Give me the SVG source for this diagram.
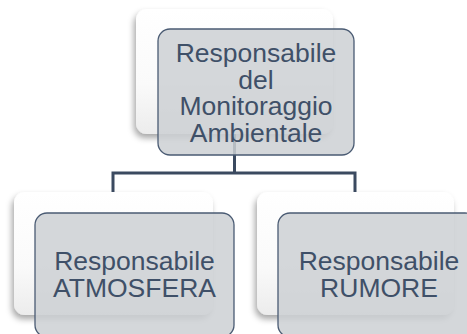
<svg xmlns="http://www.w3.org/2000/svg" width="467" height="334" viewBox="0 0 467 334">
  <defs>
    <linearGradient id="backGrad" x1="0" y1="0" x2="0" y2="1">
      <stop offset="0" stop-color="#FFFFFF"/>
      <stop offset="0.6" stop-color="#FAFAFA"/>
      <stop offset="1" stop-color="#ECECEC"/>
    </linearGradient>
    <filter id="shadow" x="-20%" y="-20%" width="140%" height="150%">
      <feDropShadow dx="-2" dy="4" stdDeviation="3" flood-color="#000000" flood-opacity="0.35"/>
    </filter>
  </defs>
  <style>
    .back { fill: url(#backGrad); filter: url(#shadow); }
    .front { fill: #CDD0D4; fill-opacity: 0.85; stroke: #4A5B73; stroke-width: 1.3; }
    .label { font-family: "Liberation Sans", Arial, sans-serif; font-size: 26.5px; fill: #3F5068; text-anchor: middle; }
    .conn { fill: none; stroke: #3B4A60; stroke-width: 3; }
  </style>
  <rect width="467" height="334" fill="#FFFFFF"/>

  <g id="back-boxes">
    <rect class="back" x="136" y="9" width="197" height="125" rx="11"/>
    <rect class="back" x="14" y="192" width="199" height="123" rx="11"/>
    <rect class="back" x="257" y="192" width="197" height="123" rx="11"/>
  </g>

  <g id="connectors">
    <path class="conn" d="M234.5 134 V173 M113 192 V173 H355 V192"/>
  </g>

  <g id="node-monitoraggio">
    <rect class="front" x="158" y="29" width="196" height="126" rx="12"/>
    <text class="label" x="256" y="62">Responsabile<tspan x="256" dy="26.5">del</tspan><tspan x="256" dy="26.5">Monitoraggio</tspan><tspan x="256" dy="26.5">Ambientale</tspan></text>
  </g>

  <g id="node-atmosfera">
    <rect class="front" x="35" y="213" width="199" height="124" rx="12"/>
    <text class="label" x="134.5" y="270">Responsabile<tspan x="134.5" dy="27">ATMOSFERA</tspan></text>
  </g>

  <g id="node-rumore">
    <rect class="front" x="278" y="213" width="199" height="124" rx="12"/>
    <text class="label" x="379" y="270">Responsabile<tspan x="379" dy="27">RUMORE</tspan></text>
  </g>
</svg>
